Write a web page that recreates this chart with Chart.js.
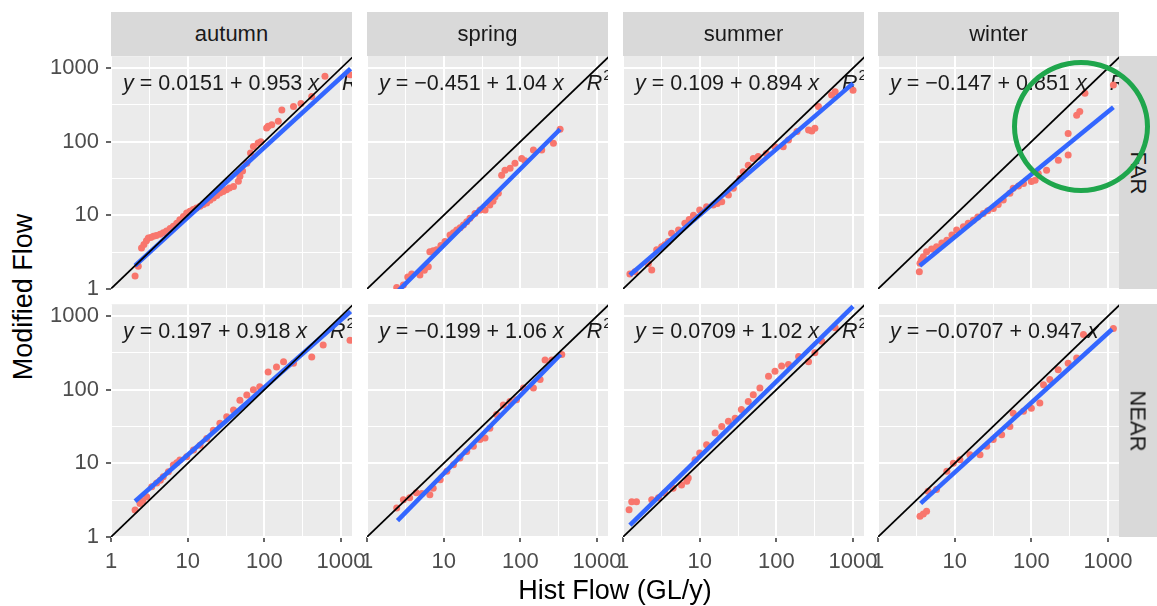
<!DOCTYPE html>
<html>
<head>
<meta charset="utf-8">
<script src="https://cdn.jsdelivr.net/npm/chart.js@4.4.1/dist/chart.umd.min.js"></script>
<style>
    body {
        margin: 0;
        width: 1157px;
        height: 606px;
        overflow: hidden;
        position: relative;
        background: #ffffff;
        font-family: "Liberation Sans", Arial, sans-serif;
    }
    canvas { position: absolute; }
    .strip {
        position: absolute;
        background: #D9D9D9;
        color: #1A1A1A;
        font-size: 22px;
        display: flex;
        align-items: center;
        justify-content: center;
    }
    .strip.right { box-sizing: border-box; padding-right: 6px; }
    .strip.right span { display: inline-block; transform: rotate(90deg); }
    .axis-title {
        position: absolute;
        font-size: 27px;
        color: #000000;
        white-space: nowrap;
        transform: translate(-50%, -50%);
    }
    .circle {
        position: absolute;
        box-sizing: border-box;
        border: 5px solid #1FA64C;
        border-radius: 50%;
    }
</style>
</head>
<body>
<script>
// Facets
const seasons = ['autumn', 'spring', 'summer', 'winter'];
const periods = ['FAR', 'NEAR'];

// Axis breaks (log10)
const majorBreaks = [1, 10, 100, 1000];
const minorBreaks = [3.162, 31.62, 316.2];
const tickLabels = ['1', '10', '100', '1000'];
const xRange = [1, 1390];
const yRange = [1, 1455];
const oneToOne = [1, 3000];

// Points: Hist Flow vs Modified Flow
const histAutumnFar = [2.06, 2.27, 2.5, 2.69, 2.9, 3.07, 3.3, 3.57, 3.9, 4.36, 4.8, 5.3, 5.9, 6.5, 7.2, 7.9, 8.8, 9.7, 10.7, 11.8, 13, 14.5, 16, 17.7, 19.5, 21.6, 24, 26.3, 29, 32, 35, 39.6, 45.8, 48, 52, 59, 66, 72, 83, 90, 107, 112, 125, 152, 169, 240, 300, 415, 617, 1310];
const modAutumnFar  = [1.49, 2.03, 3.6, 4.0, 4.5, 4.9, 5.0, 5.2, 5.3, 5.5, 5.8, 6.1, 6.6, 7.1, 7.8, 8.7, 9.6, 10.7, 11.3, 12, 12.6, 13.3, 14.0, 14.7, 16, 17.2, 18.5, 20, 21, 22.3, 23.5, 24.7, 29, 34, 40, 51, 70, 86, 96, 100, 154, 162, 170, 190, 271, 302, 330, 413, 775, 813];

const histSpringFar = [2.44, 2.98, 3.4, 3.83, 4.9, 5.6, 6.3, 6.6, 7.3, 8.1, 9.2, 10.4, 12.1, 13.4, 14.8, 16.4, 18.1, 20, 22, 25.6, 29.8, 34.7, 40, 44, 46.8, 51.6, 57, 63, 73.5, 85, 104, 115, 148, 190, 270, 330];
const modSpringFar  = [1.05, 1.13, 1.45, 1.6, 1.55, 1.8, 2.0, 3.2, 3.3, 3.4, 3.9, 4.4, 5.4, 5.8, 6.3, 6.8, 7.4, 8.2, 9.1, 10.6, 11.8, 11.8, 13.8, 15.5, 17.9, 19.9, 35, 41, 43.6, 51, 59, 55, 77, 77, 95, 147];

const histSummerFar = [1.23, 1.43, 2.14, 2.37, 2.75, 3.19, 3.5, 3.9, 4.3, 5.3, 6.4, 7.3, 8.3, 10, 12.3, 15, 17, 19.4, 23.7, 27.5, 33.6, 37, 43, 50, 58, 74, 96, 123, 144, 186, 263, 290, 318, 354, 525, 585, 1000];
const modSummerFar  = [1.6, 1.72, 2.2, 1.81, 3.4, 3.76, 4.0, 4.4, 5.7, 6.3, 7.8, 8.8, 10, 11.8, 13.1, 13.8, 14.5, 15.3, 18.9, 23.3, 31.7, 39, 48, 59, 63, 69, 85, 85, 105, 137, 144, 140, 152, 299, 430, 475, 500];

const histWinterFar = [3.46, 3.53, 3.7, 3.9, 4.3, 5.0, 5.8, 6.8, 7.9, 9.2, 10.6, 13, 15, 17.5, 20, 23.6, 27, 31.9, 37, 43, 52.5, 58, 68, 79, 100, 112, 123, 158, 225, 302, 302, 390, 428, 500, 1175];
const modWinterFar  = [1.72, 2.23, 2.5, 2.75, 3.2, 3.5, 3.76, 4.2, 4.6, 5.4, 6.3, 7, 7.8, 8.6, 9.5, 10.6, 11.5, 12.4, 14, 16.1, 19.9, 23.3, 25, 27, 28.7, 30, 37, 41, 56, 66, 129, 229, 257, 455, 590];

const histAutumnNear = [2.06, 2.39, 2.6, 2.92, 3.4, 3.94, 4.4, 4.8, 5.6, 6.5, 7.2, 7.9, 9.7, 11.9, 14.5, 17.7, 21.6, 26.3, 32.3, 39.6, 48, 59, 72, 87, 112, 144, 178, 240, 415, 585, 1310];
const modAutumnNear  = [2.33, 2.86, 3.1, 3.53, 4.8, 5.4, 5.9, 6.6, 7.7, 9.5, 10.2, 11.1, 12.3, 15.2, 17.7, 21.8, 28.3, 35, 43, 53, 72, 85, 100, 110, 175, 204, 240, 229, 280, 405, 470];

const histSpringNear = [2.44, 2.98, 3.6, 4.4, 5.2, 6.6, 7.3, 9, 11, 13.4, 16.3, 20, 24.4, 29.7, 34.6, 40, 49, 60, 73, 89, 110, 148, 181, 210, 257, 347];
const modSpringNear  = [2.48, 3.2, 3.4, 4.0, 3.9, 3.76, 4.6, 6.0, 7.8, 9.6, 11.8, 14.5, 17, 21, 22, 30, 46, 62, 69, 73, 105, 105, 137, 252, 252, 299];

const histSummerNear = [1.2, 1.3, 1.5, 2.37, 2.9, 3.5, 4.5, 5.8, 6.8, 7.1, 8.7, 10, 12.3, 15.9, 19.4, 23.7, 29, 35, 43, 50, 61, 79, 96, 117, 144, 195, 263, 318, 390, 585];
const modSummerNear  = [2.35, 3, 3, 3.2, 3.4, 4, 4.6, 5.1, 5.7, 6.3, 11.2, 13.8, 17.9, 25.8, 31.7, 37.2, 41, 53.6, 69, 85, 105, 152, 178, 209, 219, 282, 240, 316, 455, 690];

const histWinterNear = [3.53, 3.9, 4.3, 4.5, 5.8, 7.9, 9.6, 11.7, 15.8, 21.4, 26.2, 31.8, 41, 52.5, 58, 79, 100, 129, 144, 174, 224, 302, 390, 478, 1175];
const modWinterNear  = [1.91, 2.05, 2.23, 4.17, 4.4, 7.8, 10, 11.2, 13.1, 13.1, 17, 21, 24.5, 31.7, 48, 51, 56, 66, 117, 137, 186, 229, 269, 560, 676];

// Fitted lines (log10 y = a + b log10 x), in season order
const farIntercept  = [0.0151, -0.451, 0.109, -0.147];
const farSlope      = [0.953, 1.04, 0.894, 0.851];
const farFitFrom    = [2.06, 2.6, 1.23, 3.5];
const farFitTo      = [1330, 330, 1000, 1175];
const nearIntercept = [0.197, -0.199, 0.0709, -0.0707];
const nearSlope     = [0.918, 1.06, 1.02, 0.947];
const nearFitFrom   = [2.06, 2.5, 1.23, 3.6];
const nearFitTo     = [1330, 335, 1000, 1130];

const farHist  = [histAutumnFar, histSpringFar, histSummerFar, histWinterFar];
const farMod   = [modAutumnFar, modSpringFar, modSummerFar, modWinterFar];
const nearHist = [histAutumnNear, histSpringNear, histSummerNear, histWinterNear];
const nearMod  = [modAutumnNear, modSpringNear, modSummerNear, modWinterNear];

// Layout
const colLeft = [111, 367, 623, 878];
const rowTop = [56, 304];
const panelW = 241;
const panelH = 233;
const fontFamily = '"Liberation Sans", Arial, sans-serif';

function isMajor(ctx) {
    return ctx.tick && majorBreaks.includes(ctx.tick.value);
}

function fmt(v) {
    return String(v).replace('-', '\u2212');
}

// panel background + regression label
const panelPlugin = {
    id: 'panel',
    beforeDraw(chart) {
        const { ctx, chartArea: ca } = chart;
        ctx.save();
        ctx.fillStyle = '#EBEBEB';
        ctx.fillRect(ca.left, ca.top, ca.right - ca.left, ca.bottom - ca.top);
        ctx.restore();
    },
    beforeDatasetsDraw(chart) {
        const eq = chart.options.plugins.panel;
        const { ctx, chartArea: ca } = chart;
        ctx.save();
        ctx.beginPath();
        ctx.rect(ca.left, ca.top, ca.right - ca.left, ca.bottom - ca.top);
        ctx.clip();
        ctx.fillStyle = '#1A1A1A';
        ctx.textBaseline = 'middle';
        let x = ca.left + 12;
        const y = ca.top + 28;
        const parts = [
            ['y', true],
            [' = ' + fmt(eq.a) + ' + ' + fmt(eq.b) + ' ', false],
            ['x', true]
        ];
        parts.forEach(p => {
            ctx.font = (p[1] ? 'italic ' : '') + '21.5px ' + fontFamily;
            ctx.fillText(p[0], x, y);
            x += ctx.measureText(p[0]).width;
        });
        x += 23;
        ctx.font = 'italic 21.5px ' + fontFamily;
        ctx.fillText('R', x, y);
        x += ctx.measureText('R').width;
        ctx.font = '15px ' + fontFamily;
        ctx.fillText('2', x + 1, y - 8);
        ctx.restore();
    }
};

function makeAxis(range, show) {
    return {
        type: 'logarithmic',
        min: range[0],
        max: range[1],
        afterBuildTicks: s => {
            s.ticks = majorBreaks.concat(minorBreaks).sort((a, b) => a - b).map(v => ({ value: v }));
        },
        border: { display: false },
        grid: {
            color: '#FFFFFF',
            lineWidth: c => isMajor(c) ? 2 : 1,
            drawTicks: show,
            tickLength: 5,
            tickWidth: 1.5,
            tickColor: c => isMajor(c) ? '#333333' : 'rgba(0,0,0,0)'
        },
        ticks: {
            display: show,
            autoSkip: false,
            maxRotation: 0,
            padding: 7,
            color: '#4D4D4D',
            font: { family: fontFamily, size: 22 },
            callback: v => {
                const i = majorBreaks.indexOf(v);
                return i >= 0 ? tickLabels[i] : '';
            }
        }
    };
}

function panelConfig(col, row) {
    const hist = row === 0 ? farHist[col] : nearHist[col];
    const mod = row === 0 ? farMod[col] : nearMod[col];
    const a = row === 0 ? farIntercept[col] : nearIntercept[col];
    const b = row === 0 ? farSlope[col] : nearSlope[col];
    const from = row === 0 ? farFitFrom[col] : nearFitFrom[col];
    const to = row === 0 ? farFitTo[col] : nearFitTo[col];
    const showY = col === 0;
    const showX = row === 1;

    const points = hist.map((h, i) => ({ x: h, y: mod[i] }));
    const fit = [from, to].map(v => ({ x: v, y: Math.pow(10, a + b * Math.log10(v)) }));
    const diag = oneToOne.map(v => ({ x: v, y: v }));

    const xAxis = makeAxis(xRange, showX);
    xAxis.afterFit = s => { s.height = showX ? 40 : 0; };
    const yAxis = makeAxis(yRange, showY);
    yAxis.afterFit = s => { s.width = showY ? 71 : 0; };

    return {
        type: 'scatter',
        data: {
            datasets: [
                { data: diag, showLine: true, borderColor: '#000000', borderWidth: 1.7, pointRadius: 0, order: 0 },
                { data: fit, showLine: true, borderColor: '#3366FF', borderWidth: 4.5, pointRadius: 0, order: 1 },
                { data: points, backgroundColor: '#F8766D', borderWidth: 0, pointRadius: 3.5, order: 2 }
            ]
        },
        options: {
            responsive: false,
            maintainAspectRatio: false,
            animation: false,
            events: [],
            layout: {
                autoPadding: false,
                padding: { left: showY ? 0 : 15, right: 30, top: 10, bottom: showX ? 0 : 14 }
            },
            scales: { x: xAxis, y: yAxis },
            plugins: {
                legend: { display: false },
                tooltip: { enabled: false },
                panel: { a: a, b: b }
            }
        },
        plugins: [panelPlugin]
    };
}

function drawPanel(col, row) {
    const canvas = document.createElement('canvas');
    canvas.width = 340;
    canvas.height = 300;
    document.body.appendChild(canvas);

    // first pass: measure the plot area, then size the canvas so it is exactly panelW x panelH
    let chart = new Chart(canvas, panelConfig(col, row));
    let ca = chart.chartArea;
    const w = 340 + panelW - Math.round(ca.right - ca.left);
    const h = 300 + panelH - Math.round(ca.bottom - ca.top);
    chart.destroy();
    canvas.width = w;
    canvas.height = h;
    canvas.style.width = w + 'px';
    canvas.style.height = h + 'px';
    chart = new Chart(canvas, panelConfig(col, row));
    ca = chart.chartArea;
    canvas.style.left = (colLeft[col] - Math.round(ca.left)) + 'px';
    canvas.style.top = (rowTop[row] - Math.round(ca.top)) + 'px';
}

function addDiv(cls, text, style) {
    const d = document.createElement('div');
    d.className = cls;
    d.innerHTML = text;
    Object.assign(d.style, style);
    document.body.appendChild(d);
    return d;
}

document.addEventListener('DOMContentLoaded', function() {
    for (let r = 0; r < 2; r++) {
        for (let c = 0; c < 4; c++) {
            drawPanel(c, r);
        }
    }

    // Strips
    seasons.forEach((s, i) => {
        addDiv('strip', s, { left: colLeft[i] + 'px', top: '12px', width: panelW + 'px', height: '44px' });
    });
    periods.forEach((p, i) => {
        addDiv('strip right', '<span>' + p + '</span>', { left: '1119px', top: rowTop[i] + 'px', width: '44px', height: panelH + 'px' });
    });

    // Axis titles
    addDiv('axis-title', 'Hist Flow (GL/y)', { left: '615px', top: '590px' });
    const yt = addDiv('axis-title', 'Modified Flow', { left: '23px', top: '297px' });
    yt.style.transform = 'translate(-50%, -50%) rotate(-90deg)';

    // Highlight circle on winter / FAR
    addDiv('circle', '', { left: '1012px', top: '60px', width: '138px', height: '133px' });
});
</script>
</body>
</html>
